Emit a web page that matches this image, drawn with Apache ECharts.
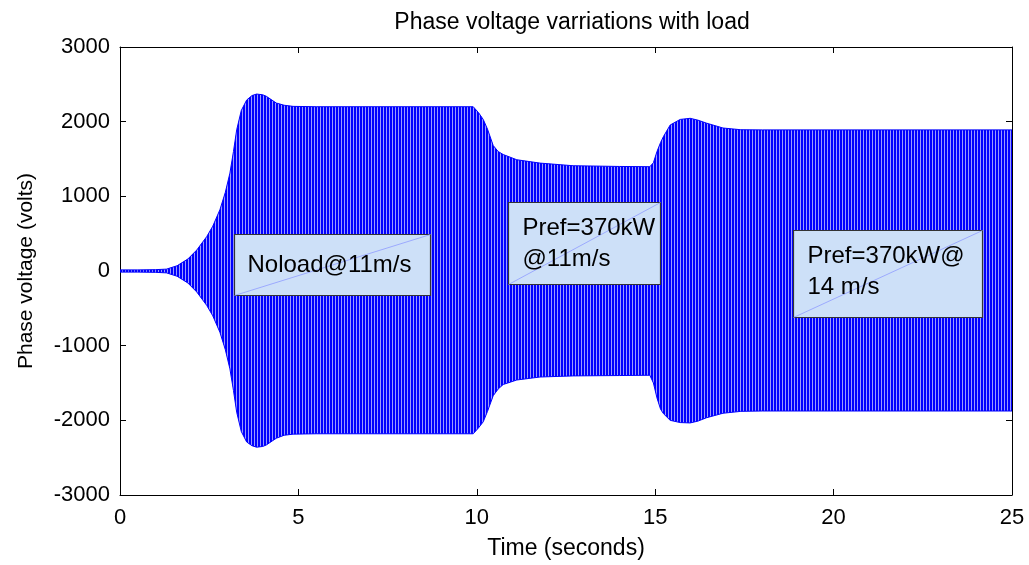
<!DOCTYPE html>
<html>
<head>
<meta charset="utf-8">
<script src="https://cdn.jsdelivr.net/npm/echarts@6/dist/echarts.min.js"></script>
<style>
html,body{margin:0;padding:0;background:#fff;}
#c{width:1029px;height:565px;}
</style>
</head>
<body>
<div id="c"></div>
<script>
// Envelope of the phase voltage waveform
const timeS = [0, 0.5, 1.0, 1.3, 1.6, 1.9, 2.15, 2.43, 2.6, 2.8, 2.95, 3.08, 3.18, 3.27, 3.4, 3.55, 3.7, 3.83, 4.0, 4.1, 4.38, 4.6, 4.85, 5.5, 9.9, 9.95, 10.05, 10.18, 10.3, 10.46, 10.6, 10.74, 11.12, 11.77, 12.7, 14.0, 14.85, 14.95, 15.05, 15.15, 15.23, 15.42, 15.7, 15.98, 16.2, 16.44, 16.9, 17.4, 18, 25];
const upperV = [15, 15, 18, 25, 70, 160, 280, 460, 600, 820, 1050, 1310, 1600, 1890, 2150, 2290, 2350, 2370, 2360, 2340, 2250, 2220, 2205, 2200, 2200, 2190, 2120, 2030, 1900, 1680, 1600, 1560, 1490, 1445, 1410, 1400, 1397, 1450, 1600, 1720, 1800, 1955, 2030, 2045, 2020, 1980, 1915, 1892, 1890, 1890];
const lowerV = [-15, -15, -18, -25, -70, -160, -280, -460, -600, -820, -1050, -1310, -1600, -1890, -2150, -2290, -2340, -2360, -2350, -2330, -2240, -2200, -2185, -2180, -2180, -2170, -2100, -2020, -1880, -1670, -1580, -1520, -1460, -1420, -1405, -1400, -1396, -1500, -1700, -1850, -1910, -2000, -2030, -2035, -2010, -1965, -1905, -1880, -1875, -1875];
const xTicks = [0, 5, 10, 15, 20, 25];
const yTicks = [-3000, -2000, -1000, 0, 1000, 2000, 3000];

// Annotation boxes: [t0, v0, t1, v1] and their text lines
const notes = [
  { box: [3.2, 497, 8.69, -314], lines: ['Noload@11m/s'], single: true },
  { box: [10.87, 925, 15.13, -167], lines: ['Pref=370kW', '@11m/s'] },
  { box: [18.87, 555, 24.18, -612], lines: ['Pref=370kW@', '14 m/s'] }
];

const FONT = '"Liberation Sans", Arial, Helvetica, sans-serif';

// stripe pattern for the dense waveform look
const pc = document.createElement('canvas');
pc.width = 3; pc.height = 4;
const pctx = pc.getContext('2d');
pctx.fillStyle = '#0000ff'; pctx.fillRect(0, 0, 3, 4);
pctx.fillStyle = '#9a9aff'; pctx.fillRect(2, 0, 1, 4);

const upperData = timeS.map((t, i) => [t, upperV[i]]);
const lowerData = timeS.map((t, i) => [t, lowerV[i]]);

const chart = echarts.init(document.getElementById('c'), null, { renderer: 'canvas' });

const axisCommon = {
  type: 'value',
  axisLine: { show: true, onZero: false, lineStyle: { color: '#000', width: 1 } },
  axisTick: { show: true, inside: true, length: 6, lineStyle: { color: '#000' } },
  splitLine: { show: false }
};

chart.setOption({
  animation: false,
  backgroundColor: '#fff',
  title: {
    text: 'Phase voltage varriations with load',
    left: 567, top: 6, textAlign: 'center',
    textStyle: { fontFamily: FONT, fontSize: 23, fontWeight: 'normal', color: '#000' }
  },
  grid: { left: 120, right: 17, top: 47, bottom: 69 },
  xAxis: [
    Object.assign({}, axisCommon, {
      min: 0, max: 25, interval: 5, position: 'bottom',
      name: 'Time (seconds)', nameLocation: 'middle', nameGap: 42,
      nameTextStyle: { fontFamily: FONT, fontSize: 23, color: '#000' },
      axisLabel: { fontFamily: FONT, fontSize: 22, color: '#000', margin: 12,
        formatter: v => xTicks.includes(v) ? String(v) : '' }
    }),
    Object.assign({}, axisCommon, {
      min: 0, max: 25, interval: 5, position: 'top', axisLabel: { show: false }
    })
  ],
  yAxis: [
    Object.assign({}, axisCommon, {
      min: -3000, max: 3000, interval: 1000, position: 'left',
      name: 'Phase voltage (volts)', nameLocation: 'middle', nameGap: 83,
      nameTextStyle: { fontFamily: FONT, fontSize: 21, color: '#000' },
      axisLabel: { fontFamily: FONT, fontSize: 22, color: '#000', margin: 10,
        formatter: v => yTicks.includes(v) ? String(v) : '' }
    }),
    Object.assign({}, axisCommon, {
      min: -3000, max: 3000, interval: 1000, position: 'right', axisLabel: { show: false }
    })
  ],
  series: [
    {
      type: 'line', data: upperData, showSymbol: false, symbol: 'none',
      lineStyle: { color: '#0000ff', width: 1 },
      areaStyle: { color: { image: pc, repeat: 'repeat' }, opacity: 1, origin: 0 },
      z: 2
    },
    {
      type: 'line', data: lowerData, showSymbol: false, symbol: 'none',
      lineStyle: { color: '#0000ff', width: 1 },
      areaStyle: { color: { image: pc, repeat: 'repeat' }, opacity: 1, origin: 0 },
      z: 2
    }
  ]
});

// Annotation boxes placed in data coordinates
const gfx = [];
notes.forEach(n => {
  const p0 = chart.convertToPixel({ gridIndex: 0 }, [n.box[0], n.box[1]]);
  const p1 = chart.convertToPixel({ gridIndex: 0 }, [n.box[2], n.box[3]]);
  const x = Math.round(p0[0]) + 0.5, y = Math.round(p0[1]) + 0.5;
  const w = Math.round(p1[0] - p0[0]), h = Math.round(p1[1] - p0[1]);
  gfx.push({ type: 'rect', shape: { x, y, width: w, height: h }, z: 100,
    style: { fill: '#cde0f8', stroke: '#333', lineWidth: 1.2 } });
  gfx.push({ type: 'line', shape: { x1: x, y1: y + h, x2: x + w, y2: y }, z: 101,
    style: { stroke: '#8f9cff', lineWidth: 0.8 } });
  const text = n.lines.join('\n');
  gfx.push({ type: 'text', z: 102,
    x: n.single ? x + 13 : x + 14,
    y: n.single ? y + h / 2 : y + 10,
    style: { text, fontFamily: FONT, fontSize: 24, fill: '#000',
      lineHeight: 31, verticalAlign: n.single ? 'middle' : 'top', align: 'left' } });
});
chart.setOption({ graphic: gfx });
</script>
</body>
</html>
